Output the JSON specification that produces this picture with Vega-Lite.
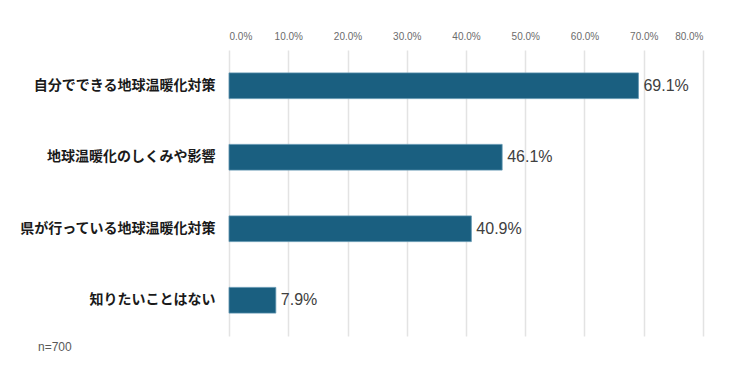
{
  "$schema": "https://vega.github.io/schema/vega-lite/v6.json",
  "autosize": {"type": "none"},
  "width": 474,
  "height": 286,
  "padding": {"left": 229, "top": 50, "right": 37, "bottom": 44},
  "background": "white",
  "data": {
    "values": [
      {"item": "自分でできる地球温暖化対策", "pct": 0.691},
      {"item": "地球温暖化のしくみや影響", "pct": 0.461},
      {"item": "県が行っている地球温暖化対策", "pct": 0.409},
      {"item": "知りたいことはない", "pct": 0.079}
    ]
  },
  "title": {
    "text": "n=700",
    "orient": "bottom",
    "anchor": "start",
    "frame": "group",
    "dx": -191,
    "offset": 6,
    "fontSize": 12,
    "fontWeight": "normal",
    "font": "Liberation Sans",
    "color": "#595959"
  },
  "encoding": {
    "y": {
      "field": "item",
      "type": "nominal",
      "sort": null,
      "scale": {"paddingInner": 0.64, "paddingOuter": 0.32},
      "axis": {
        "title": null,
        "ticks": false,
        "domain": false,
        "labelPadding": 14,
        "labelFont": "Noto Sans CJK JP",
        "labelFontSize": 14,
        "labelFontWeight": "bold",
        "labelColor": "#1a1a1a",
        "labelLimit": 300
      }
    },
    "x": {
      "field": "pct",
      "type": "quantitative",
      "scale": {"domain": [0, 0.8], "nice": false},
      "axis": {
        "orient": "top",
        "title": null,
        "values": [0, 0.1, 0.2, 0.3, 0.4, 0.5, 0.6, 0.7, 0.8],
        "format": ".1%",
        "ticks": false,
        "domain": false,
        "grid": true,
        "gridColor": "#e3e3e3",
        "gridWidth": 1.5,
        "labelFont": "Liberation Sans",
        "labelFontSize": 10,
        "labelColor": "#6b6b6b",
        "labelPadding": 9
      }
    }
  },
  "layer": [
    {
      "mark": {"type": "bar", "color": "#1a5f80", "stroke": "#5d93ae", "strokeWidth": 0.8}
    },
    {
      "mark": {
        "type": "text",
        "align": "left",
        "baseline": "middle",
        "dx": 5,
        "font": "Liberation Sans",
        "fontSize": 16,
        "color": "#404040"
      },
      "encoding": {
        "text": {"field": "pct", "type": "quantitative", "format": ".1%"}
      }
    }
  ],
  "config": {"view": {"stroke": null}}
}
